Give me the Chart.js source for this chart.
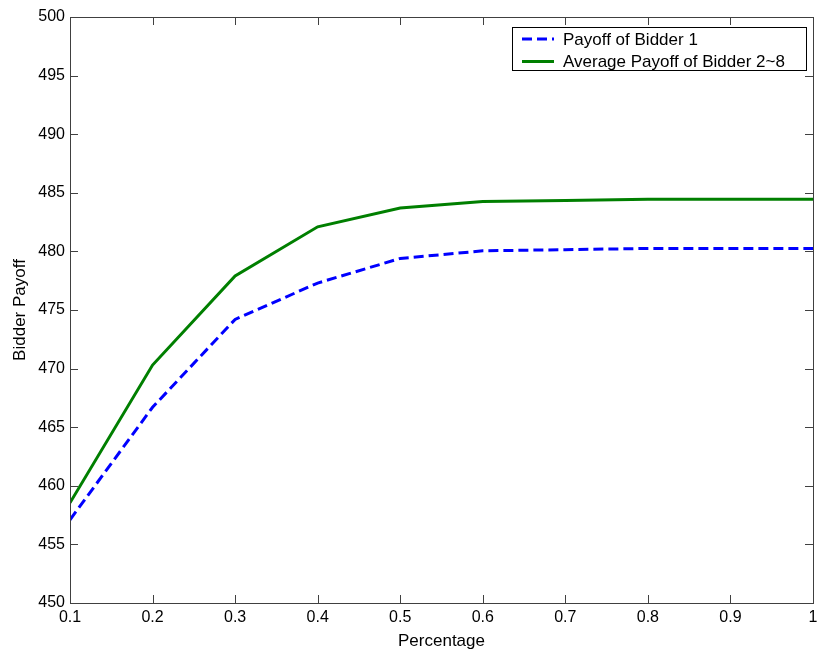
<!DOCTYPE html>
<html>
<head>
<meta charset="utf-8">
<script src="https://cdn.jsdelivr.net/npm/chart.js@4.4.0/dist/chart.umd.min.js"></script>
<style>
  html, body { margin: 0; padding: 0; background: #fff; }
  #wrap { width: 817px; height: 650px; }
</style>
</head>
<body>
<div id="wrap"><canvas id="payoffChart" width="817" height="650"></canvas></div>
<script>
// Payoff vs. share percentage
var percentages = [0.1, 0.2, 0.3, 0.4, 0.5, 0.6, 0.7, 0.8, 0.9, 1.0];
var bidder1Payoff = [457.1, 466.7, 474.2, 477.3, 479.4, 480.05, 480.15, 480.25, 480.25, 480.25];
var othersPayoff = [458.55, 470.3, 477.9, 482.1, 483.7, 484.25, 484.35, 484.45, 484.45, 484.45];
var seriesNames = ['Payoff of Bidder 1', 'Average Payoff of Bidder 2~8'];

var axisColor = '#404040';
var fontFamily = "'Liberation Sans', Arial, sans-serif";

function toPoints(xs, ys) {
    return xs.map(function (x, i) { return { x: x, y: ys[i] }; });
}

// Box around the plot with inward tick marks on all four sides
var boxTicks = {
    id: 'boxTicks',
    afterDraw: function (chart) {
        var ctx = chart.ctx, a = chart.chartArea;
        var xs = chart.scales.x, ys = chart.scales.y;
        var len = 8;
        ctx.save();
        ctx.strokeStyle = axisColor;
        ctx.lineWidth = 1;
        ctx.strokeRect(Math.round(a.left) + 0.5, Math.round(a.top) + 0.5,
            Math.round(a.right - a.left), Math.round(a.bottom - a.top));
        ctx.beginPath();
        xs.ticks.forEach(function (t) {
            var px = Math.round(xs.getPixelForValue(t.value)) + 0.5;
            ctx.moveTo(px, a.bottom); ctx.lineTo(px, a.bottom - len);
            ctx.moveTo(px, a.top); ctx.lineTo(px, a.top + len);
        });
        ys.ticks.forEach(function (t) {
            var py = Math.round(ys.getPixelForValue(t.value)) + 0.5;
            ctx.moveTo(a.left, py); ctx.lineTo(a.left + len, py);
            ctx.moveTo(a.right, py); ctx.lineTo(a.right - len, py);
        });
        ctx.stroke();
        ctx.restore();
    }
};

// Boxed legend in the upper right corner
var boxLegend = {
    id: 'boxLegend',
    afterDraw: function (chart) {
        var ctx = chart.ctx;
        var bx = 512, by = 27, bw = 294, bh = 43;
        ctx.save();
        ctx.fillStyle = '#fff';
        ctx.fillRect(bx, by, bw, bh);
        ctx.strokeStyle = '#000';
        ctx.lineWidth = 1;
        ctx.strokeRect(bx + 0.5, by + 0.5, bw, bh);
        ctx.font = '17px ' + fontFamily;
        ctx.textBaseline = 'middle';
        ctx.textAlign = 'left';
        chart.data.datasets.forEach(function (ds, i) {
            var cy = by + 12 + i * 22.5;
            ctx.beginPath();
            ctx.strokeStyle = ds.borderColor;
            ctx.lineWidth = ds.borderWidth;
            ctx.setLineDash(ds.borderDash || []);
            ctx.moveTo(bx + 10, cy);
            ctx.lineTo(bx + 42, cy);
            ctx.stroke();
            ctx.setLineDash([]);
            ctx.fillStyle = '#000';
            ctx.fillText(ds.label, bx + 51, cy + 1);
        });
        ctx.restore();
    }
};

var ctx = document.getElementById('payoffChart').getContext('2d');

var payoffChart = new Chart(ctx, {
    type: 'line',
    data: {
        datasets: [{
            label: seriesNames[0],
            data: toPoints(percentages, bidder1Payoff),
            borderColor: '#0000ff',
            borderWidth: 3,
            borderDash: [10, 5],
            pointRadius: 0,
            tension: 0,
            fill: false
        }, {
            label: seriesNames[1],
            data: toPoints(percentages, othersPayoff),
            borderColor: '#007f00',
            borderWidth: 3,
            pointRadius: 0,
            tension: 0,
            fill: false
        }]
    },
    options: {
        responsive: false,
        animation: false,
        layout: { padding: { top: 17, right: 4, left: 0, bottom: 0 } },
        plugins: {
            legend: { display: false },
            tooltip: { enabled: false }
        },
        scales: {
            x: {
                type: 'linear',
                min: 0.1,
                max: 1,
                grid: { display: false, drawTicks: false },
                border: { display: false },
                ticks: {
                    stepSize: 0.1,
                    padding: 5,
                    color: '#000',
                    font: { family: fontFamily, size: 16 },
                    callback: function (v) { return String(Number(v.toFixed(1))); }
                },
                title: {
                    display: true,
                    text: 'Percentage',
                    color: '#000',
                    font: { family: fontFamily, size: 17 },
                    padding: { top: 0, bottom: -2 }
                },
                afterFit: function (scale) {
                    scale.height = 47;
                    // let the last tick label hang past the plot edge
                    scale.paddingLeft = 0;
                    scale.paddingRight = 0;
                }
            },
            y: {
                min: 450,
                max: 500,
                grid: { display: false, drawTicks: false },
                border: { display: false },
                ticks: {
                    stepSize: 5,
                    padding: 5,
                    color: '#000',
                    font: { family: fontFamily, size: 16 }
                },
                title: {
                    display: true,
                    text: 'Bidder Payoff',
                    color: '#000',
                    font: { family: fontFamily, size: 17 },
                    padding: 10
                },
                afterFit: function (scale) {
                    scale.width = 70;
                    scale.paddingTop = 0;
                    scale.paddingBottom = 0;
                }
            }
        }
    },
    plugins: [boxTicks, boxLegend]
});
</script>
</body>
</html>
